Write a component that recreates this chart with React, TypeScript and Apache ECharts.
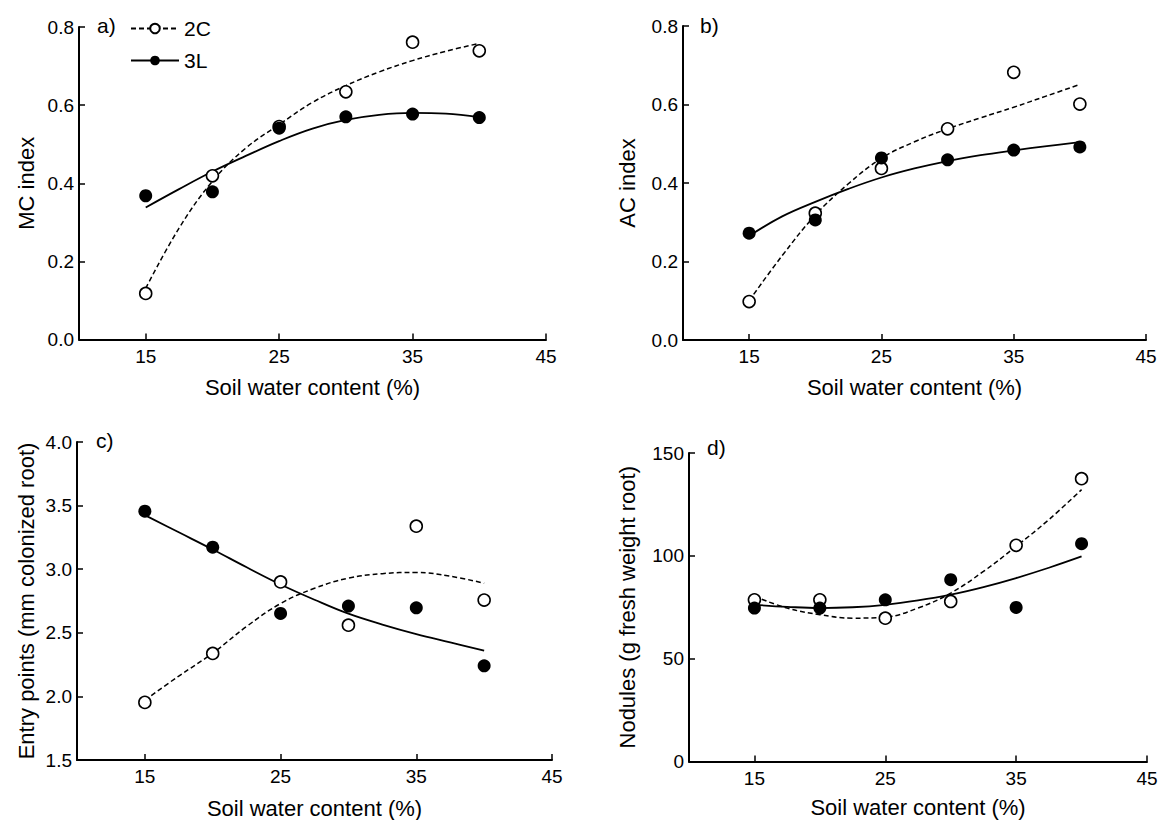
import React, { useEffect, useRef } from "react";
import * as echarts from "echarts";

// ---- data ----
const waterContent = [15, 20, 25, 30, 35, 40];
const fitWater = [15, 17.5, 20, 22.5, 25, 27.5, 30, 32.5, 35, 37.5, 40];
const xTicks = [15, 25, 35, 45];

const mc2C = [0.118, 0.419, 0.545, 0.634, 0.761, 0.739];
const mc3L = [0.368, 0.378, 0.541, 0.57, 0.577, 0.568];
const mc2CFit = [0.131, 0.285, 0.405, 0.49, 0.55, 0.607, 0.65, 0.685, 0.714, 0.738, 0.758];
const mc3LFit = [0.338, 0.385, 0.43, 0.47, 0.508, 0.54, 0.562, 0.575, 0.58, 0.578, 0.569];

const ac2C = [0.098, 0.323, 0.437, 0.538, 0.682, 0.601];
const ac3L = [0.272, 0.306, 0.464, 0.459, 0.484, 0.492];
const ac2CFit = [0.1, 0.215, 0.318, 0.398, 0.463, 0.505, 0.538, 0.566, 0.593, 0.622, 0.651];
const ac3LFit = [0.265, 0.315, 0.352, 0.385, 0.414, 0.437, 0.456, 0.471, 0.483, 0.494, 0.504];

const ep2C = [1.953, 2.338, 2.9, 2.56, 3.338, 2.757];
const ep3L = [3.456, 3.173, 2.652, 2.71, 2.696, 2.24];
const ep2CFit = [1.97, 2.16, 2.34, 2.55, 2.73, 2.85, 2.93, 2.965, 2.975, 2.945, 2.89];
const ep3LFit = [3.425, 3.29, 3.155, 3.015, 2.88, 2.76, 2.65, 2.565, 2.49, 2.425, 2.36];

const nod2C = [78.6, 78.6, 69.7, 77.8, 105.1, 137.5];
const nod3L = [74.6, 74.6, 78.6, 88.4, 74.9, 105.9];
const nod2CFit = [80.3, 74.6, 71.4, 69.7, 70.2, 74.6, 81.9, 92.4, 104.6, 117.6, 132.2];
const nod3LFit = [76.2, 75.2, 74.6, 75, 76.2, 78.3, 81.1, 84.8, 89.2, 94.2, 99.7];

const panelLetters = ["a)", "b)", "c)", "d)"];
const yNames = ["MC index", "AC index", "Entry points (mm colonized root)", "Nodules (g fresh weight root)"];
const xName = "Soil water content (%)";
const yMin = [0, 0, 1.5, 0];
const yMax = [0.8, 0.8, 4.0, 150];
const yInterval = [0.2, 0.2, 0.5, 50];
const yDecimals = [1, 1, 1, 0];

const FONT = "Liberation Sans, Arial, Helvetica, sans-serif";

// layout
const grids = [
  { left: 79, top: 27, width: 467, height: 312.5 },
  { left: 683, top: 26, width: 463, height: 314 },
  { left: 77, top: 442, width: 475, height: 318 },
  { left: 689, top: 453, width: 458, height: 308.5 },
];
const letterPos = [
  { left: 97, top: 15 },
  { left: 700, top: 15 },
  { left: 96, top: 430 },
  { left: 707, top: 437 },
];
const yNameGaps = [42, 45, 40, 51];
const xNameGaps = [37, 36, 37, 35];

const panels = [
  { open: mc2C, filled: mc3L, openFit: mc2CFit, filledFit: mc3LFit },
  { open: ac2C, filled: ac3L, openFit: ac2CFit, filledFit: ac3LFit },
  { open: ep2C, filled: ep3L, openFit: ep2CFit, filledFit: ep3LFit },
  { open: nod2C, filled: nod3L, openFit: nod2CFit, filledFit: nod3LFit },
];

function pairs(xv: number[], yv: number[]) {
  return xv.map((x, i) => [x, yv[i]]);
}

export default function App() {
  const ref = useRef<HTMLDivElement>(null);
  useEffect(() => {
    if (!ref.current) return;
    const chart = echarts.init(ref.current, null, { renderer: "svg" });

    const axisLine = { show: true, lineStyle: { color: "#000", width: 2 } };
    const xAxis = grids.map((_, i) => ({
      type: "value",
      gridIndex: i,
      min: 10,
      max: 45,
      name: xName,
      nameLocation: "middle",
      nameGap: xNameGaps[i],
      nameTextStyle: { fontSize: 22, fontFamily: FONT, color: "#000" },
      axisLine,
      axisTick: { show: true, inside: true, length: 6, customValues: xTicks, lineStyle: { color: "#000", width: 1.5 } },
      axisLabel: { customValues: xTicks, fontSize: 19, fontFamily: FONT, color: "#000", margin: 7 },
      splitLine: { show: false },
    }));
    const yAxis = grids.map((_, i) => ({
      type: "value",
      gridIndex: i,
      min: yMin[i],
      max: yMax[i],
      interval: yInterval[i],
      name: yNames[i],
      nameLocation: "middle",
      nameGap: yNameGaps[i],
      nameTextStyle: { fontSize: 22, fontFamily: FONT, color: "#000" },
      axisLine,
      axisTick: { show: true, inside: true, length: 6, lineStyle: { color: "#000", width: 1.5 } },
      axisLabel: {
        fontSize: 19,
        fontFamily: FONT,
        color: "#000",
        margin: 5,
        formatter: (v: number) => v.toFixed(yDecimals[i]),
      },
      splitLine: { show: false },
    }));

    const series: any[] = [];
    panels.forEach((p, i) => {
      series.push({
        name: "2C",
        type: "line",
        xAxisIndex: i,
        yAxisIndex: i,
        data: pairs(fitWater, p.openFit),
        smooth: 0.4,
        symbol: "emptyCircle",
        showSymbol: false,
        color: "#000",
        lineStyle: { color: "#000", width: 1.5, type: [5, 3] },
        z: 2,
      });
      series.push({
        name: "3L",
        type: "line",
        xAxisIndex: i,
        yAxisIndex: i,
        data: pairs(fitWater, p.filledFit),
        smooth: 0.4,
        symbol: "circle",
        showSymbol: false,
        color: "#000",
        lineStyle: { color: "#000", width: 1.8, type: "solid" },
        z: 2,
      });
    });
    panels.forEach((p, i) => {
      series.push({
        name: "2C",
        type: "scatter",
        xAxisIndex: i,
        yAxisIndex: i,
        data: pairs(waterContent, p.open),
        symbol: "circle",
        symbolSize: 12,
        itemStyle: { color: "#fff", borderColor: "#000", borderWidth: 1.6, opacity: 1 },
        z: 3,
      });
      series.push({
        name: "3L",
        type: "scatter",
        xAxisIndex: i,
        yAxisIndex: i,
        data: pairs(waterContent, p.filled),
        symbol: "circle",
        symbolSize: 13,
        itemStyle: { color: "#000", opacity: 1 },
        z: 4,
      });
    });

    chart.setOption({
      animation: false,
      backgroundColor: "#fff",
      title: panelLetters.map((t, i) => ({
        text: t,
        left: letterPos[i].left,
        top: letterPos[i].top,
        padding: 0,
        textStyle: { fontSize: 21, fontWeight: "normal", fontFamily: FONT, color: "#000" },
      })),
      legend: {
        data: ["2C", "3L"],
        orient: "vertical",
        left: 130,
        top: 18,
        padding: 0,
        itemWidth: 48,
        itemHeight: 12,
        itemGap: 11,
        selectedMode: false,
        textStyle: { fontSize: 21, fontFamily: FONT, color: "#000" },
      },
      grid: grids.map((g) => ({ ...g, containLabel: false })),
      xAxis,
      yAxis,
      series,
    });
    return () => chart.dispose();
  }, []);
  return (
    <div
      ref={ref}
      style={{ position: "fixed", left: 0, top: 0, width: 1167, height: 820, background: "#fff" }}
    />
  );
}
